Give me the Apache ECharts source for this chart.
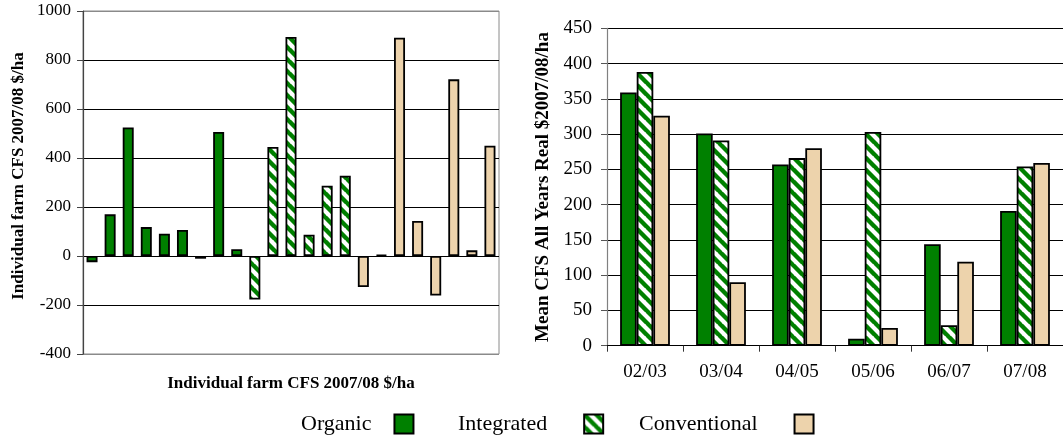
<!DOCTYPE html>
<html>
<head>
<meta charset="utf-8">
<script src="https://cdn.jsdelivr.net/npm/echarts@6/dist/echarts.min.js"></script>
<style>
  html, body { margin: 0; padding: 0; background: #fff; }
  #chart { width: 1063px; height: 439px; }
</style>
</head>
<body>
<div id="chart"></div>
<script>
// Individual farm cash-flow surplus, 2007/08 ($/ha), grouped by system
const organicFarms = [-25, 170, 525, 118, 91, 106, -11, 506, 28];
const integratedFarms = [-178, 445, 894, 87, 287, 328];
const conventionalFarms = [-127, 4, 891, 143, -161, 721, 23, 450];

// Mean CFS over all years (real $2007/08 per ha)
const seasons = ['02/03', '03/04', '04/05', '05/06', '06/07', '07/08'];
const organicMean = [359, 301, 257, 10, 144, 191];
const integratedMean = [388, 291, 266, 303, 29, 254];
const conventionalMean = [326, 90, 280, 25, 119, 259];

const leftTicks = { min: -400, max: 1000, interval: 200 };
const rightTicks = { min: 0, max: 450, interval: 50 };
const systems = ['Organic', 'Integrated', 'Conventional'];

const FONT = "'Liberation Serif', 'Times New Roman', serif";
const GREEN = '#008000';
const BEIGE = '#EDD3AC';

// Diagonal green/white hatching for the integrated farms
function hatch() {
  const s = 12;
  const c = document.createElement('canvas');
  c.width = s; c.height = s;
  const g = c.getContext('2d');
  g.fillStyle = '#fff';
  g.fillRect(0, 0, s, s);
  g.strokeStyle = GREEN;
  g.lineWidth = 4.4;
  for (let k = -1; k <= 1; k++) {
    g.beginPath();
    g.moveTo(k * s - 1, -1);
    g.lineTo(k * s + s + 1, s + 1);
    g.stroke();
  }
  return { image: c, repeat: 'repeat' };
}
const HATCH = hatch();

// One category per farm; each group only fills its own slots
const farmCount = organicFarms.length + integratedFarms.length + conventionalFarms.length;
const farmCats = Array.from({ length: farmCount }, (_, i) => 'Farm ' + (i + 1));
function placed(values, offset) {
  const out = new Array(farmCount).fill('-');
  values.forEach((v, i) => { out[offset + i] = v; });
  return out;
}
const orgSlots = placed(organicFarms, 0);
const intSlots = placed(integratedFarms, organicFarms.length);
const conSlots = placed(conventionalFarms, organicFarms.length + integratedFarms.length);

const border = { borderColor: '#000', borderWidth: 1.8 };
const styles = {
  Organic: Object.assign({ color: GREEN }, border),
  Integrated: Object.assign({ color: HATCH }, border),
  Conventional: Object.assign({ color: BEIGE }, border)
};

const chart = echarts.init(document.getElementById('chart'), null, { renderer: 'canvas' });

const splitColorsLeft = [];
for (let v = leftTicks.min; v <= leftTicks.max; v += leftTicks.interval) {
  splitColorsLeft.push(v === leftTicks.min || v === leftTicks.max ? '#8a8a8a' : '#000');
}

// Legend: label first, swatch after it, one entry per slot
const legendSlots = [
  { left: 301, gapAfterText: 18 },
  { left: 458, gapAfterText: 32 },
  { left: 639, gapAfterText: 32 }
];
const legends = systems.map((name, i) => ({
  data: [name],
  left: legendSlots[i].left,
  top: 413,
  padding: 0,
  align: 'right',
  icon: 'rect',
  itemWidth: 19,
  itemHeight: 19,
  selectedMode: false,
  textStyle: { fontFamily: FONT, fontSize: 22, color: '#000', padding: [0, legendSlots[i].gapAfterText, 0, 0] }
}));

chart.setOption({
  animation: false,
  textStyle: { fontFamily: FONT, color: '#000' },
  legend: legends,
  grid: [
    { left: 83, top: 11, width: 416, height: 343, show: true, borderColor: '#8a8a8a', borderWidth: 1, backgroundColor: '#fff' },
    { left: 607, top: 28.3, width: 458, height: 317.4 }
  ],
  xAxis: [
    {
      gridIndex: 0,
      type: 'category',
      data: farmCats,
      position: 'bottom',
      axisLine: { show: false },
      axisTick: { show: false },
      axisLabel: { show: false },
      name: 'Individual farm CFS 2007/08 $/ha',
      nameLocation: 'middle',
      nameGap: 21,
      nameTextStyle: { fontFamily: FONT, fontSize: 17, fontWeight: 'bold', color: '#000' }
    },
    {
      gridIndex: 1,
      type: 'category',
      data: seasons,
      axisLine: { lineStyle: { color: '#000', width: 1 } },
      axisTick: { show: true, alignWithLabel: false, length: 6, lineStyle: { color: '#333' } },
      axisLabel: { fontFamily: FONT, fontSize: 19, color: '#000', margin: 17 }
    }
  ],
  yAxis: [
    {
      gridIndex: 0,
      type: 'value',
      min: leftTicks.min,
      max: leftTicks.max,
      interval: leftTicks.interval,
      axisLine: { show: true, lineStyle: { color: '#444', width: 1.2 } },
      axisTick: { show: true, length: 6, lineStyle: { color: '#444' } },
      axisLabel: { fontFamily: FONT, fontSize: 17, color: '#000', margin: 12, formatter: v => String(v) },
      splitLine: { show: true, lineStyle: { color: splitColorsLeft, width: 1 } },
      name: 'Individual farm CFS 2007/08 $/ha',
      nameLocation: 'middle',
      nameRotate: 90,
      nameGap: 56,
      nameTextStyle: { fontFamily: FONT, fontSize: 17, fontWeight: 'bold', color: '#000', padding: [0, 0, 0, 13] }
    },
    {
      gridIndex: 1,
      type: 'value',
      min: rightTicks.min,
      max: rightTicks.max,
      interval: rightTicks.interval,
      axisLine: { show: true, lineStyle: { color: '#808080', width: 1.2 } },
      axisTick: { show: true, length: 6, lineStyle: { color: '#555' } },
      axisLabel: { fontFamily: FONT, fontSize: 19, color: '#000', margin: 15, formatter: v => String(v) },
      splitLine: { show: true, lineStyle: { color: '#000', width: 1 } },
      name: 'Mean CFS All Years Real $2007/08/ha',
      nameLocation: 'middle',
      nameRotate: 90,
      nameGap: 54,
      nameTextStyle: { fontFamily: FONT, fontSize: 19, fontWeight: 'bold', color: '#000' }
    }
  ],
  series: [
    { name: 'Organic', type: 'bar', xAxisIndex: 0, yAxisIndex: 0, data: orgSlots, barWidth: 11, barGap: '-100%', itemStyle: styles.Organic },
    { name: 'Integrated', type: 'bar', xAxisIndex: 0, yAxisIndex: 0, data: intSlots, barWidth: 11, barGap: '-100%', itemStyle: styles.Integrated },
    { name: 'Conventional', type: 'bar', xAxisIndex: 0, yAxisIndex: 0, data: conSlots, barWidth: 11, barGap: '-100%', itemStyle: styles.Conventional },
    { name: 'Organic', type: 'bar', xAxisIndex: 1, yAxisIndex: 1, data: organicMean, barGap: '0%', barCategoryGap: '34.5%', itemStyle: styles.Organic },
    { name: 'Integrated', type: 'bar', xAxisIndex: 1, yAxisIndex: 1, data: integratedMean, barGap: '0%', barCategoryGap: '34.5%', itemStyle: styles.Integrated },
    { name: 'Conventional', type: 'bar', xAxisIndex: 1, yAxisIndex: 1, data: conventionalMean, barGap: '0%', barCategoryGap: '34.5%', itemStyle: styles.Conventional }
  ]
});
</script>
</body>
</html>
